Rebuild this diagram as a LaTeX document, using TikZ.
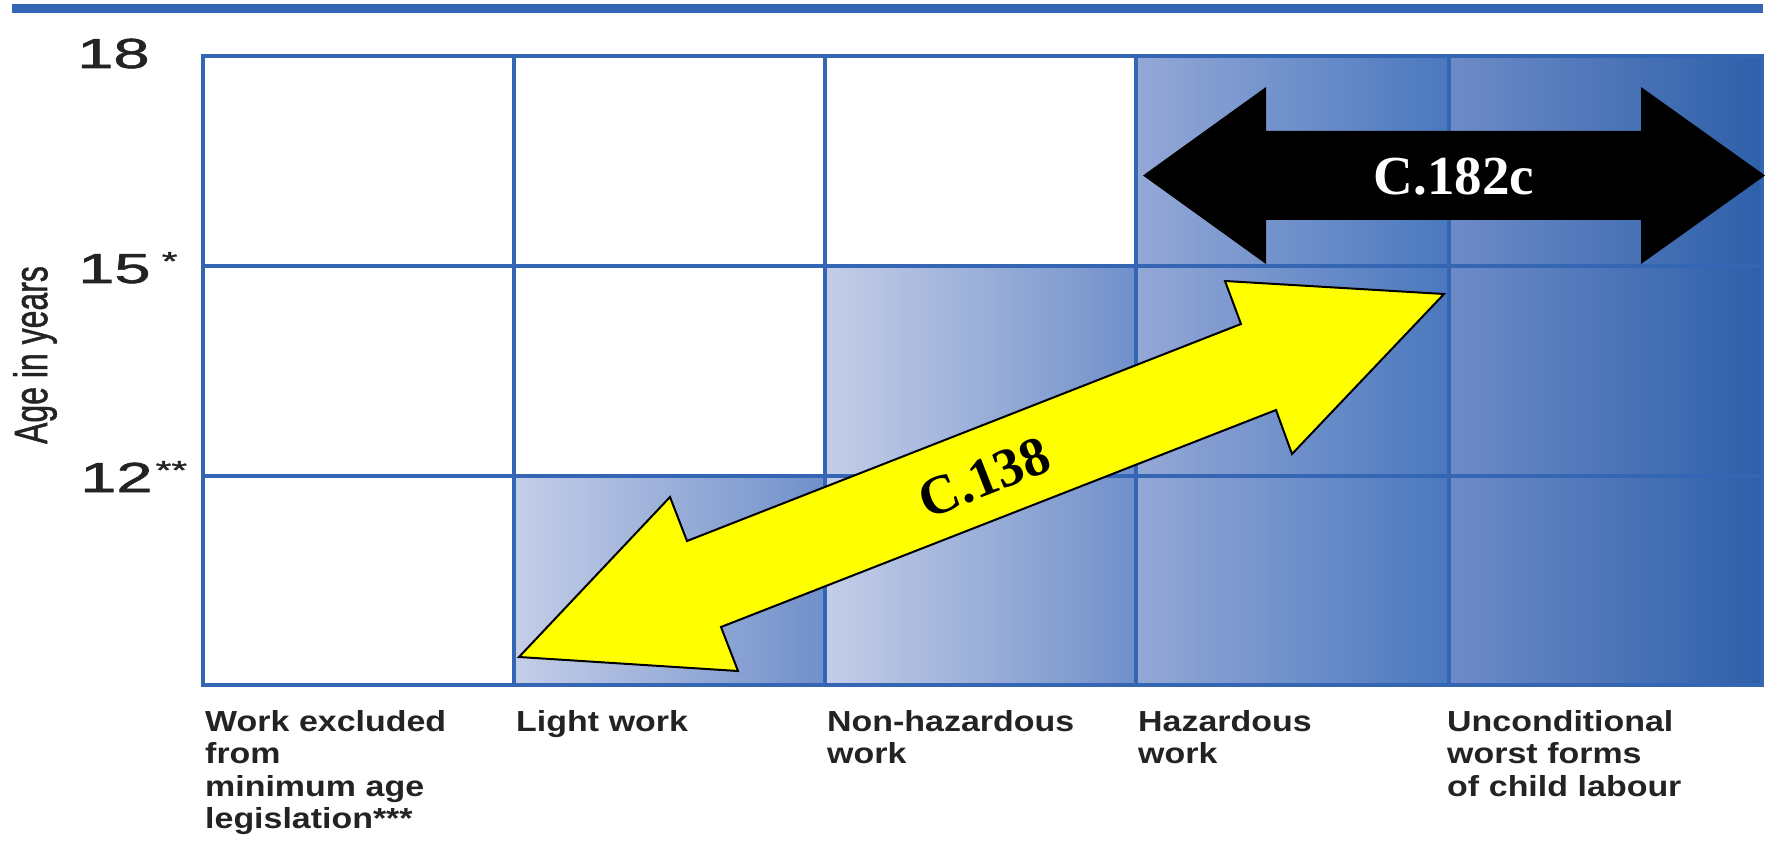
\documentclass[tikz,border=0pt]{standalone}
\usepackage{fontspec}
\usepackage{graphicx}
\setmainfont{Liberation Sans}
\newfontfamily\labfont[FakeStretch=1.17]{Liberation Sans}
\newfontfamily\numfont[FakeBold=1.2]{Liberation Sans}
\newfontfamily\cfont{Liberation Serif}
\definecolor{gridblue}{RGB}{52,102,180}
\definecolor{gAl}{RGB}{197,206,232}
\definecolor{gAr}{RGB}{112,144,202}
\definecolor{gBl}{RGB}{148,168,215}
\definecolor{gBr}{RGB}{74,120,190}
\definecolor{gCl}{RGB}{110,139,199}
\definecolor{gCm}{RGB}{62,113,188}
\definecolor{gCr}{RGB}{46,96,170}
\definecolor{ylw}{RGB}{255,255,0}
\definecolor{txt}{RGB}{35,35,35}
\tikzset{
  gridline/.style={draw=gridblue, line width=4.5pt},
  cellA/.style={left color=gAl, right color=gAr},
  cellB/.style={left color=gBl, right color=gBr},
  cellC/.style={left color=gCl, middle color=gCm, right color=gCr},
  agelab/.style={anchor=base west, inner sep=0pt, text=txt, font=\numfont\fontsize{42}{42}\selectfont},
  worklab/.style={anchor=base west, inner sep=0pt, text=txt, align=left, text width=300pt,
    font=\labfont\bfseries\fontsize{29}{32.5}\selectfont},
  conv/.style={inner sep=0pt, font=\cfont\bfseries\fontsize{55}{55}\selectfont},
}
\newcommand{\wide}[1]{\scalebox{1.55}[1]{#1}}
\newcommand{\stars}[1]{\raisebox{13pt}{\fontsize{26}{26}\selectfont #1}}
\begin{document}
\begin{tikzpicture}[x=1pt, y=-1pt]
\useasboundingbox (0,0) rectangle (1769,842);
% top rule
\draw[draw=gridblue, line width=9pt] (12,8.5) -- (1763,8.5);
% shaded cells
\shade[cellA] (514,476) rectangle (825,685);
\shade[cellA] (825,266) rectangle (1136,476);
\shade[cellA] (825,476) rectangle (1136,685);
\shade[cellB] (1136,56) rectangle (1449,685);
\shade[cellC] (1449,56) rectangle (1762,685);
% grid
\draw[gridline] (203,56) rectangle (1762,685);
\foreach \gx in {514,825,1136,1449} \draw[gridline] (\gx,56) -- (\gx,685);
\foreach \gy in {266,476} \draw[gridline] (203,\gy) -- (1762,\gy);
% axis labels
\node[agelab] (a18) at (77,68) {\wide{18}};
\node[agelab] (a15) at (78,283) {\wide{15\stars{ *}}};
\node[agelab] (a12) at (80,492) {\wide{12\hspace{2pt}\stars{**}}};
\node[rotate=90, inner sep=0pt, text=txt, font=\numfont\fontsize{32}{32}\selectfont] (axis) at (35,355) {\scalebox{1}[1.47]{Age in years}};
% column labels
\node[worklab] (w1) at (205,731) {Work excluded\\from\\minimum age\\legislation***};
\node[worklab] (w2) at (516,731) {Light work};
\node[worklab] (w3) at (827,731) {Non-hazardous\\work};
\node[worklab] (w4) at (1138,731) {Hazardous\\work};
\node[worklab] (w5) at (1447,731) {Unconditional\\worst forms\\of child labour};
% C.182c arrow
\fill[black] (1143,175.5) -- (1266,87) -- (1266,131) -- (1641,131) -- (1641,87)
  -- (1765,175.5) -- (1641,264) -- (1641,220) -- (1266,220) -- (1266,264) -- cycle;
\node[conv, text=white] (c182) at (1454,177) {C.182c};
% C.138 arrow
\filldraw[fill=ylw, draw=black, line width=2pt, line join=miter]
  (519,657) -- (670,497) -- (687,541) -- (1241,324) -- (1225,281) -- (1444,294)
  -- (1292,454) -- (1276,410) -- (721,627) -- (738,671) -- cycle;
\node[conv, text=black, rotate=21.4] (c138) at (984,478) {C.138};
\end{tikzpicture}
\end{document}
